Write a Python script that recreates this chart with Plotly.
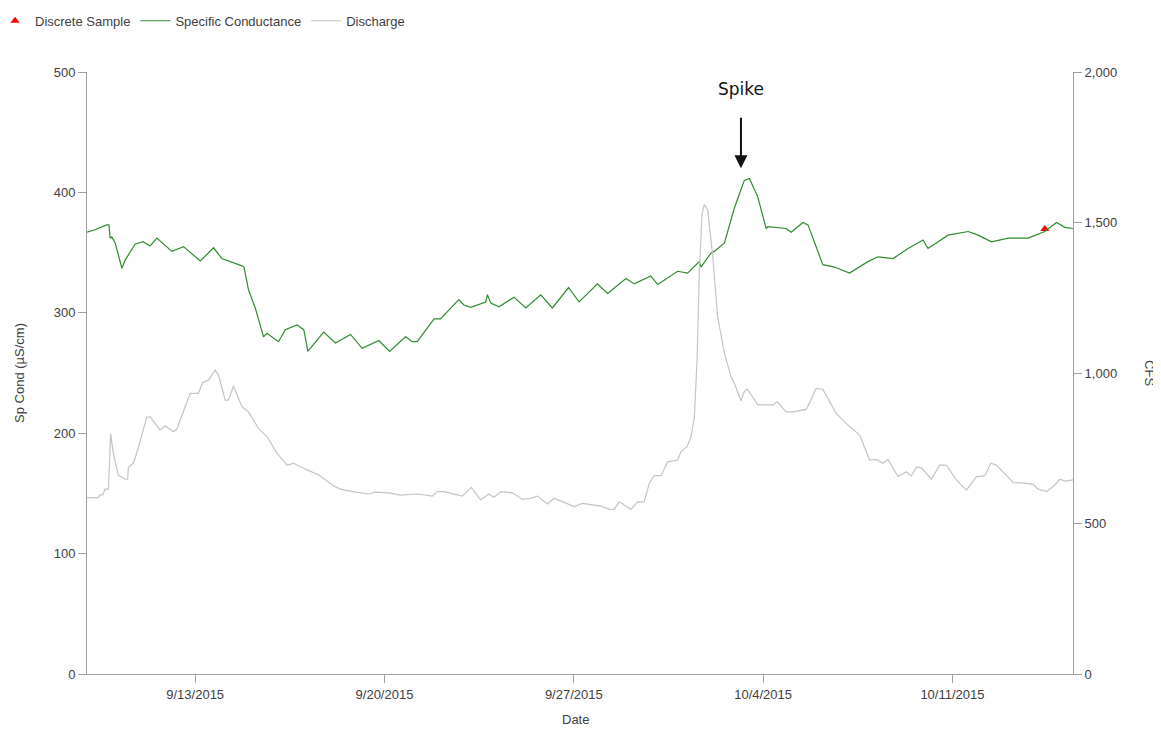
import plotly.graph_objects as go

# ---- Data ----
sc_time = [
    "2015-09-09 00:00", "2015-09-09 07:00", "2015-09-09 17:30", "2015-09-09 19:30",
    "2015-09-09 20:30", "2015-09-09 22:00", "2015-09-10 01:00", "2015-09-10 07:00",
    "2015-09-10 10:00", "2015-09-10 18:40", "2015-09-11 01:40", "2015-09-11 08:00",
    "2015-09-11 14:00", "2015-09-12 03:20", "2015-09-12 13:40", "2015-09-13 04:30",
    "2015-09-13 16:20", "2015-09-13 23:45", "2015-09-14 17:30", "2015-09-14 19:20",
    "2015-09-14 23:20", "2015-09-15 05:20", "2015-09-15 12:40", "2015-09-15 15:40",
    "2015-09-16 02:00", "2015-09-16 08:00", "2015-09-16 18:20", "2015-09-17 00:20",
    "2015-09-17 01:40", "2015-09-17 04:00", "2015-09-17 18:00", "2015-09-18 04:30",
    "2015-09-18 17:50", "2015-09-19 04:10", "2015-09-19 19:00", "2015-09-20 04:30",
    "2015-09-20 18:40", "2015-09-21 00:40", "2015-09-21 05:00", "2015-09-21 20:00",
    "2015-09-22 01:40", "2015-09-22 18:00", "2015-09-22 22:30", "2015-09-23 04:30",
    "2015-09-23 17:50", "2015-09-23 19:20", "2015-09-23 22:20", "2015-09-24 05:40",
    "2015-09-24 19:00", "2015-09-25 05:20", "2015-09-25 18:40", "2015-09-26 05:00",
    "2015-09-26 19:20", "2015-09-27 04:40", "2015-09-27 21:00", "2015-09-28 06:00",
    "2015-09-28 22:20", "2015-09-29 05:40", "2015-09-29 20:20", "2015-09-30 02:30",
    "2015-09-30 20:10", "2015-10-01 05:00", "2015-10-01 15:20", "2015-10-01 16:50",
    "2015-10-02 01:40", "2015-10-02 04:40", "2015-10-02 13:40", "2015-10-02 22:30",
    "2015-10-03 07:20", "2015-10-03 11:50", "2015-10-03 19:10", "2015-10-04 02:40",
    "2015-10-04 04:10", "2015-10-04 20:20", "2015-10-05 01:00", "2015-10-05 11:20",
    "2015-10-05 15:50", "2015-10-05 23:00", "2015-10-06 05:00", "2015-10-06 15:20",
    "2015-10-07 04:40", "2015-10-07 21:00", "2015-10-08 06:00", "2015-10-08 19:20",
    "2015-10-09 08:40", "2015-10-09 21:50", "2015-10-10 02:20", "2015-10-10 20:10",
    "2015-10-11 14:00", "2015-10-11 22:50", "2015-10-12 10:40", "2015-10-13 01:30",
    "2015-10-13 19:10", "2015-10-14 10:00", "2015-10-14 20:20", "2015-10-15 03:50",
    "2015-10-15 11:00",
]
sc_value = [
    367, 369, 373, 373, 362, 363, 358, 337, 344, 357, 359, 355.5,
    362, 351, 355, 343, 354, 345, 339, 338, 319, 304, 280, 283,
    276, 286, 290, 286, 280, 268, 284, 275, 282, 270.5, 277, 268,
    280, 276, 276, 295, 295, 311, 306.5, 304.5, 309, 315, 308, 305,
    313, 304, 315, 304, 321, 309, 324, 316, 328.5, 324, 330.5, 323.5,
    334.5, 333, 342.5, 338, 349.5, 351, 358, 387, 410, 411.5, 396.5, 370,
    371.5, 370, 367, 375, 373, 355, 340, 338, 333, 342.5, 346.5, 345,
    353.5, 360.5, 353.5, 364.5, 367.5, 364.5, 359, 362, 362, 367.5, 375, 371,
    370,
]

q_time = [
    "2015-09-09 00:00", "2015-09-09 10:00", "2015-09-09 11:30", "2015-09-09 14:00",
    "2015-09-09 16:00", "2015-09-09 19:00", "2015-09-09 21:00", "2015-09-09 23:20",
    "2015-09-10 03:50", "2015-09-10 10:00", "2015-09-10 12:10", "2015-09-10 12:40",
    "2015-09-10 17:10", "2015-09-10 21:40", "2015-09-11 05:00", "2015-09-11 08:00",
    "2015-09-11 16:50", "2015-09-11 21:20", "2015-09-12 04:40", "2015-09-12 07:40",
    "2015-09-12 19:30", "2015-09-13 02:50", "2015-09-13 06:30", "2015-09-13 11:50",
    "2015-09-13 17:50", "2015-09-13 20:40", "2015-09-14 02:40", "2015-09-14 05:30",
    "2015-09-14 10:00", "2015-09-14 17:30", "2015-09-14 23:20", "2015-09-15 08:10",
    "2015-09-15 15:50", "2015-09-16 00:40", "2015-09-16 09:30", "2015-09-16 15:20",
    "2015-09-17 03:20", "2015-09-17 13:40", "2015-09-18 03:00", "2015-09-18 08:50",
    "2015-09-18 22:20", "2015-09-19 10:00", "2015-09-19 16:00", "2015-09-20 03:50",
    "2015-09-20 14:10", "2015-09-21 02:10", "2015-09-21 05:00", "2015-09-21 18:30",
    "2015-09-21 22:50", "2015-09-22 04:40", "2015-09-22 21:00", "2015-09-23 05:00",
    "2015-09-23 13:20", "2015-09-23 20:40", "2015-09-24 01:10", "2015-09-24 07:10",
    "2015-09-24 17:30", "2015-09-25 02:30", "2015-09-25 09:50", "2015-09-25 15:50",
    "2015-09-26 00:40", "2015-09-26 06:30", "2015-09-26 15:20", "2015-09-27 00:20",
    "2015-09-27 07:40", "2015-09-28 00:00", "2015-09-28 07:20", "2015-09-28 11:50",
    "2015-09-28 16:20", "2015-09-29 02:40", "2015-09-29 08:40", "2015-09-29 14:30",
    "2015-09-29 19:00", "2015-09-29 23:20", "2015-09-30 05:20", "2015-09-30 11:20",
    "2015-09-30 20:10", "2015-09-30 23:10", "2015-10-01 04:30", "2015-10-01 08:00",
    "2015-10-01 11:00", "2015-10-01 13:30", "2015-10-01 15:20", "2015-10-01 17:50",
    "2015-10-01 19:50", "2015-10-01 22:50", "2015-10-02 03:20", "2015-10-02 07:40",
    "2015-10-02 13:40", "2015-10-02 19:30", "2015-10-02 22:30", "2015-10-03 04:20",
    "2015-10-03 07:20", "2015-10-03 09:50", "2015-10-03 13:30", "2015-10-03 19:20",
    "2015-10-04 08:40", "2015-10-04 12:30", "2015-10-04 20:20", "2015-10-05 02:20",
    "2015-10-05 14:10", "2015-10-05 17:00", "2015-10-05 23:00", "2015-10-06 05:00",
    "2015-10-06 16:50", "2015-10-07 03:20", "2015-10-07 13:40", "2015-10-07 22:30",
    "2015-10-08 04:30", "2015-10-08 10:20", "2015-10-08 14:50", "2015-10-08 23:40",
    "2015-10-09 07:10", "2015-10-09 11:30", "2015-10-09 16:00", "2015-10-09 20:30",
    "2015-10-10 05:20", "2015-10-10 12:40", "2015-10-10 18:40", "2015-10-11 03:30",
    "2015-10-11 12:30", "2015-10-11 21:20", "2015-10-12 04:40", "2015-10-12 10:00",
    "2015-10-12 15:00", "2015-10-13 06:00", "2015-10-13 16:20", "2015-10-13 23:40",
    "2015-10-14 04:10", "2015-10-14 11:30", "2015-10-14 19:00", "2015-10-14 23:20",
    "2015-10-15 03:50", "2015-10-15 11:00",
]
q_value = [
    586, 586, 595, 595, 614, 614, 797, 733, 661, 647, 647, 687,
    700, 753, 853, 855, 810, 825, 805, 813, 932, 932, 968, 977,
    1010, 993, 910, 910, 957, 888, 871, 816, 788, 733, 694, 700,
    678, 661, 625, 614, 604, 598, 604, 602, 594, 598, 598, 591,
    606, 606, 591, 620, 578, 598, 587, 606, 602, 580, 584, 591,
    565, 584, 569, 556, 567, 558, 547, 547, 572, 547, 572, 572,
    634, 659, 659, 705, 711, 739, 755, 788, 855, 1054, 1331, 1530,
    1560, 1541, 1386, 1187, 1065, 988, 966, 908, 938, 947, 927, 894,
    894, 905, 871, 871, 879, 899, 949, 946, 866, 827, 794, 711,
    713, 700, 713, 656, 672, 658, 687, 685, 647, 694, 694, 645,
    611, 656, 658, 700, 694, 636, 634, 630, 614, 606, 628, 647,
    641, 645,
]

sample_time = ["2015-10-14 10:00"]
sample_value = [369.5]

x_range = ["2015-09-09 00:00", "2015-10-15 11:00"]
spike_time = "2015-10-03 04:20"

FONT = "Liberation Sans, Arial, sans-serif"
AXIS_COL = "#a0a0a0"
TEXT_COL = "#404040"
FS = 13

fig = go.Figure()
fig.add_trace(go.Scatter(
    x=sample_time, y=sample_value, mode="markers", name="Discrete Sample",
    marker=dict(symbol="triangle-up", color="#ff0000", size=8),
))
fig.add_trace(go.Scatter(
    x=sc_time, y=sc_value, mode="lines", name="Specific Conductance",
    line=dict(color="#2e8b2e", width=1.2),
))
fig.add_trace(go.Scatter(
    x=q_time, y=q_value, mode="lines", name="Discharge", yaxis="y2",
    line=dict(color="#c4c4c4", width=1.2),
))

fig.update_layout(
    width=1153, height=721,
    margin=dict(l=79, r=88, t=64, b=55, autoexpand=False),
    paper_bgcolor="white", plot_bgcolor="white",
    font=dict(family=FONT, size=FS, color=TEXT_COL),
    showlegend=True,
    legend=dict(orientation="h", x=-0.0933, xanchor="left", y=1.11, yanchor="top",
                font=dict(family=FONT, size=FS, color=TEXT_COL),
                bgcolor="rgba(0,0,0,0)"),
    xaxis=dict(
        type="date", range=x_range, showgrid=False, zeroline=False,
        showline=True, linecolor=AXIS_COL, linewidth=1,
        ticks="outside", ticklen=8, tickcolor=AXIS_COL,
        tick0="2015-09-13", dtick=7 * 24 * 3600 * 1000,
        tickformat="%-m/%-d/%Y",
        tickfont=dict(family=FONT, size=FS, color=TEXT_COL),
    ),
    yaxis=dict(
        range=[0, 500], dtick=100, showgrid=False, zeroline=False,
        showline=True, linecolor=AXIS_COL, linewidth=1,
        ticks="outside", ticklen=8, tickcolor=AXIS_COL,
        tickfont=dict(family=FONT, size=FS, color=TEXT_COL),
    ),
    yaxis2=dict(
        range=[0, 2000], dtick=500, overlaying="y", side="right",
        showgrid=False, zeroline=False, tickformat=",",
        showline=True, linecolor=AXIS_COL, linewidth=1,
        ticks="outside", ticklen=8, tickcolor=AXIS_COL,
        tickfont=dict(family=FONT, size=FS, color=TEXT_COL),
    ),
    annotations=[
        dict(text="Sp Cond (µS/cm)", xref="paper", yref="paper", x=-0.069, y=0.5,
             xanchor="center", yanchor="middle",
             textangle=-90, showarrow=False, font=dict(family=FONT, size=FS, color=TEXT_COL)),
        dict(text="CFS", xref="paper", yref="paper", x=1.078, y=0.5,
             xanchor="center", yanchor="middle",
             textangle=90, showarrow=False, font=dict(family=FONT, size=FS, color=TEXT_COL)),
        dict(text="Date", xref="paper", yref="paper", x=0.495, y=-0.075,
             xanchor="center", yanchor="middle",
             showarrow=False, font=dict(family=FONT, size=FS, color=TEXT_COL)),
        dict(text="Spike", x=spike_time, y=486, xref="x", yref="y",
             showarrow=False, font=dict(family="DejaVu Sans, Verdana, sans-serif", size=17, color="#111111")),
        dict(text="", x=spike_time, y=420, xref="x", yref="y",
             showarrow=True, arrowhead=2, arrowsize=1.3, arrowwidth=2, arrowcolor="#111111",
             ax=0, ay=-52),
    ],
)

fig.write_html("out.html")
